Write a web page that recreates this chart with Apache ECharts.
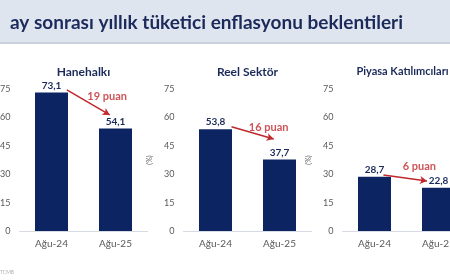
<!DOCTYPE html>
<html>
<head>
<meta charset="utf-8">
<script src="https://cdn.jsdelivr.net/npm/echarts@6/dist/echarts.min.js"></script>
<style>html,body{margin:0;padding:0;background:#fff}#c{width:450px;height:280px}</style>
</head>
<body>
<div id="c"></div>
<script>
// ---- data ----
var title = 'ay sonrası yıllık tüketici enflasyonu beklentileri';
var panelTitles = ['Hanehalkı', 'Reel Sektör', 'Piyasa Katılımcıları'];
var categories = ['Ağu-24', 'Ağu-25'];
var households = [73.1, 54.1];
var realSector = [53.8, 37.7];
var marketParticipants = [28.7, 22.8];
var yTicks = [0, 15, 30, 45, 60, 75];
var axisName = '(%)';
var sourceText = 'TCMB';

// ---- layout / styling ----
var seriesList = [households, realSector, marketParticipants];
var gridLefts = [19.5, 183.5, 342.5];
var panelTitleSizes = [12, 12, 11];
var panelTitleShift = [-5, -5, -9];
var gridW = 128, gridTop = 89, gridH = 142;
// annotation arrow placement (x in bar-slot units, y in axis units)
var arrows = [
  {from: [0.24, 74.5], to: [0.91, 61.3], text: [0.87, 70.9]},
  {from: [0.25, 55.1], to: [0.91, 48.6], text: [0.83, 54.6]},
  {from: [0.14, 29.6], to: [0.82, 26.4], text: [0.70, 34.0]}
];
var navy = '#0c2461', red = '#c0282d', gray = '#595959';
var font = 'Lato';

var grids = [], xAxes = [], yAxes = [], series = [], titles = [];
titles.push({text: title, left: 5, top: 8, textStyle: {fontFamily: font, fontWeight: 'bold', fontSize: 19, color: '#1b2a5a'}});
for (var i = 0; i < 3; i++) {
  grids.push({left: gridLefts[i], top: gridTop, width: gridW, height: gridH, outerBoundsMode: 'none', containLabel: false});
  titles.push({text: panelTitles[i], left: gridLefts[i] + gridW / 2 + panelTitleShift[i], top: 61, textAlign: 'center',
    textStyle: {fontFamily: font, fontWeight: 'bold', fontSize: panelTitleSizes[i], color: '#1b2a5a'}});
  xAxes.push({type: 'category', gridIndex: i, data: categories,
    axisLine: {lineStyle: {color: '#d6dbe3', width: 1}}, axisTick: {show: false},
    axisLabel: {color: gray, fontFamily: font, fontSize: 10, margin: 8}});
  xAxes.push({type: 'value', gridIndex: i, min: -0.5, max: 1.5, show: false});
  yAxes.push({type: 'value', gridIndex: i, min: yTicks[0], max: yTicks[yTicks.length - 1], interval: yTicks[1] - yTicks[0],
    name: axisName, nameLocation: 'middle', nameGap: 30, nameRotate: 90,
    nameTextStyle: {color: gray, fontSize: 7, fontFamily: font},
    axisLine: {show: false}, axisTick: {show: false}, splitLine: {show: false},
    axisLabel: {color: gray, fontFamily: font, fontSize: 9, margin: 9}});
  var vals = seriesList[i];
  series.push({type: 'bar', xAxisIndex: 2 * i, yAxisIndex: i, data: vals, barWidth: 33,
    itemStyle: {color: navy}, animation: false,
    label: {show: true, position: 'top', distance: 2, color: '#1b2a5a', fontFamily: font, fontWeight: 'bold', fontSize: 10,
      formatter: function (p) { return p.value.toFixed(1).replace('.', ','); }}});
  var a = arrows[i];
  var diff = Math.round(vals[0] - vals[1]) + ' puan';
  series.push({type: 'scatter', xAxisIndex: 2 * i + 1, yAxisIndex: i, data: [a.text], symbolSize: 0, silent: true, animation: false,
    label: {show: true, position: 'inside', formatter: diff, color: red, fontFamily: font, fontWeight: 'bold', fontSize: 11},
    markLine: {silent: true, animation: false, symbol: ['none', 'arrow'], symbolSize: [6, 7],
      lineStyle: {color: red, width: 1.5, type: 'solid'}, label: {show: false},
      data: [[{coord: a.from}, {coord: a.to}]]}});
}

var chart = echarts.init(document.getElementById('c'), null, {renderer: 'canvas'});
chart.setOption({
  animation: false,
  backgroundColor: '#ffffff',
  graphic: [
    {type: 'rect', shape: {x: 0, y: 0, width: 450, height: 43}, style: {fill: '#dfe5ef'}, z: -10},
    {type: 'rect', shape: {x: 0, y: 42, width: 450, height: 2}, style: {fill: '#c9d1dd'}, z: -10},
    {type: 'text', left: 0, top: 270, style: {text: sourceText, fill: '#b0b0b0', fontSize: 5, fontFamily: font}}
  ],
  title: titles,
  grid: grids,
  xAxis: xAxes,
  yAxis: yAxes,
  series: series
});
</script>
</body>
</html>
